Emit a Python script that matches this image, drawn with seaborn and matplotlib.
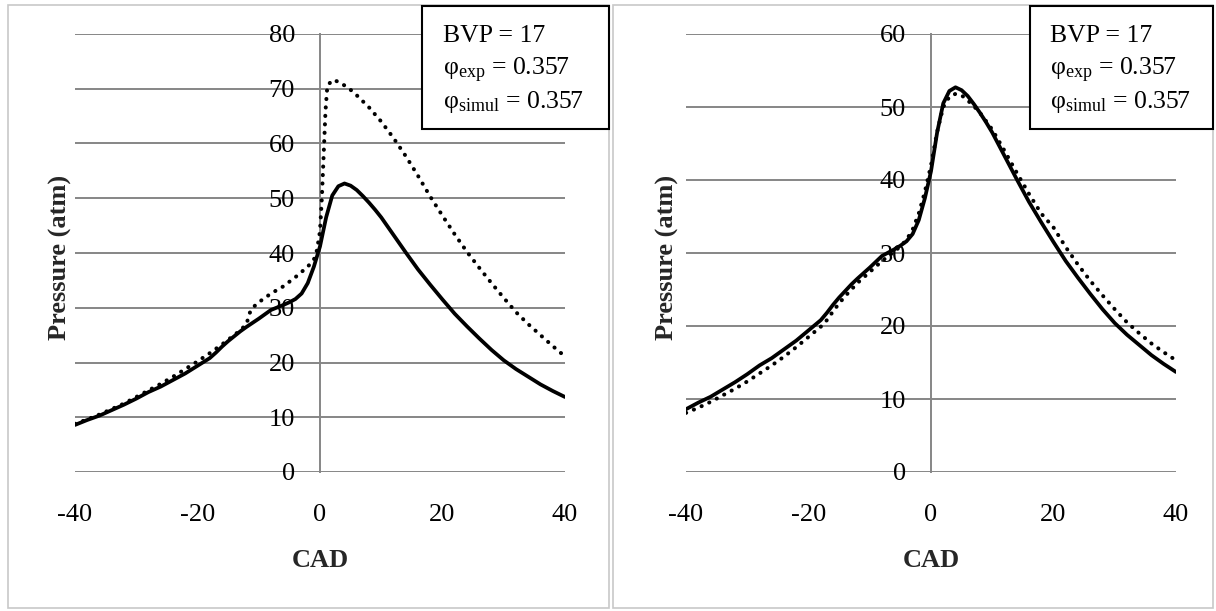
import matplotlib
matplotlib.use("Agg")
import matplotlib.pyplot as plt
from matplotlib.patches import Rectangle
import seaborn as sns
import pandas as pd

# ---------------- data ----------------
cad_exp = [-40, -38, -36, -34, -32, -30, -28, -26, -24, -22, -20, -18, -17, -16, -15, -14, -13, -12,
           -10, -8, -6, -5, -4, -3, -2, -1, 0, 1, 2, 3, 4, 5, 6, 7, 8, 9, 10, 12, 14, 16, 18, 20,
           22, 24, 26, 28, 30, 32, 34, 36, 38, 40]
p_exp = [8.6, 9.5, 10.3, 11.3, 12.3, 13.4, 14.6, 15.6, 16.8, 18.0, 19.4, 20.8, 21.8, 22.9, 23.9, 24.8, 25.7, 26.5,
         28.0, 29.6, 30.5, 31.0, 31.6, 32.6, 34.5, 37.5, 41.2, 46.5, 50.5, 52.2, 52.7, 52.3, 51.5, 50.4, 49.2, 47.9, 46.5,
         43.3, 40.1, 37.0, 34.2, 31.5, 28.9, 26.6, 24.4, 22.3, 20.4, 18.8, 17.4, 16.0, 14.8, 13.7]

cad_sim_left = [-40, -38, -36, -34, -32, -30, -28, -26, -24, -22, -20, -18, -16, -14, -13, -12, -11.5, -11,
                -10, -8, -6, -4, -2, -1, -0.5, 0, 0.3, 0.6, 0.9, 1.2, 2, 3, 4, 5, 6, 8, 10, 12, 14, 16,
                18, 20, 22, 24, 26, 28, 30, 32, 34, 36, 38, 40]
p_sim_left = [8.8, 9.6, 10.5, 11.5, 12.5, 13.7, 14.9, 16.1, 17.4, 18.8, 20.2, 21.7, 23.3, 25.0, 25.9, 27.0, 29.0, 30.0,
              31.0, 32.6, 33.9, 35.6, 37.5, 38.8, 40.5, 44.0, 50.0, 58.0, 66.0, 70.5, 71.6, 71.3, 70.6, 69.8, 68.8, 66.6,
              64.0, 61.0, 57.7, 54.1, 50.3, 46.8, 43.4, 40.2, 37.3, 34.5, 31.8, 29.2, 27.0, 25.0, 23.0, 21.1]

cad_sim_right = [-40, -38, -36, -34, -32, -30, -28, -26, -24, -22, -20, -18, -17, -16, -15, -14, -12, -10,
                 -8, -6, -5, -4, -3, -2, -1, 0, 1, 2, 3, 4, 5, 6, 7, 8, 10, 12, 14, 16, 18, 20,
                 22, 24, 26, 28, 30, 32, 34, 36, 38, 40]
p_sim_right = [8.1, 8.8, 9.6, 10.5, 11.4, 12.4, 13.5, 14.6, 15.8, 17.1, 18.5, 19.9, 20.8, 22.0, 23.1, 24.1, 25.9, 27.4,
               28.9, 30.2, 30.9, 31.8, 33.2, 35.4, 38.4, 42.0, 46.6, 50.0, 51.4, 51.8, 51.6, 50.9, 50.1, 49.2, 46.9,
               44.0, 41.0, 38.1, 35.4, 33.5, 30.8, 28.4, 26.2, 24.2, 22.3, 20.5, 19.0, 17.6, 16.4, 15.3]

x_ticks = [-40, -20, 0, 20, 40]
y_ticks_left = [0, 10, 20, 30, 40, 50, 60, 70, 80]
y_ticks_right = [0, 10, 20, 30, 40, 50, 60]
box_lines = ["BVP = 17", "φ$_{\\mathrm{exp}}$ = 0.357", "φ$_{\\mathrm{simul}}$ = 0.357"]

# ---------------- style ----------------
sns.set_style("white")
plt.rcParams["font.family"] = ["Liberation Serif", "DejaVu Serif"]
plt.rcParams["mathtext.fontset"] = "custom"
plt.rcParams["mathtext.rm"] = "Liberation Serif"
plt.rcParams["mathtext.it"] = "Liberation Serif:italic"
plt.rcParams["mathtext.bf"] = "Liberation Serif:bold"

W, H = 1216, 611
fig = plt.figure(figsize=(W / 100, H / 100), dpi=100)
fig.patch.set_facecolor("white")

GRID = "#868686"


def px_rect(x0, y0, x1, y1):
    """pixel box (top-left origin) -> figure fraction rect"""
    return [x0 / W, (H - y1) / H, (x1 - x0) / W, (y1 - y0) / H]


def setup_panel(ax, yticks, ylabel_x):
    ax.set_xlim(-40, 40)
    ax.set_ylim(yticks[0], yticks[-1])
    ax.set_xticks(x_ticks)
    ax.set_yticks(yticks)
    ax.set_xticklabels([str(t) for t in x_ticks])
    ax.set_yticklabels([str(t) for t in yticks])
    ax.set_facecolor("none")
    for s in ["top", "right", "bottom"]:
        ax.spines[s].set_visible(False)
    ax.spines["left"].set_position(("data", 0))
    ax.spines["left"].set_color(GRID)
    ax.spines["left"].set_linewidth(1.4)
    ax.spines["left"].set_zorder(0.5)
    ax.yaxis.grid(True, color=GRID, linewidth=1.4, zorder=0)
    ax.xaxis.grid(False)
    ax.set_axisbelow(True)
    ax.tick_params(axis="y", length=0, pad=18, labelsize=19, labelcolor="black")
    ax.tick_params(axis="x", length=0, pad=23, labelsize=19, labelcolor="black")
    ax.set_xlabel("CAD", fontsize=19, fontweight="bold", va="center")
    ax.xaxis.set_label_coords(0.5, -0.203)
    ax.set_ylabel("Pressure (atm)", fontsize=19, fontweight="bold", va="center")
    ax.yaxis.set_label_coords(ylabel_x, 0.49)


def draw(ax, cad_sim, p_sim):
    df_e = pd.DataFrame({"CAD": cad_exp, "P": p_exp})
    df_s = pd.DataFrame({"CAD": cad_sim, "P": p_sim})
    sns.lineplot(data=df_e, x="CAD", y="P", ax=ax, color="black", linewidth=2.7,
                 estimator=None, sort=False, solid_capstyle="round",
                 solid_joinstyle="round", zorder=3)
    sns.lineplot(data=df_s, x="CAD", y="P", ax=ax, color="black", linewidth=2.9,
                 estimator=None, sort=False, linestyle=(0, (0.05, 2.05)),
                 dash_capstyle="round", zorder=3)


ax1 = fig.add_axes(px_rect(75, 34, 565, 472))
draw(ax1, cad_sim_left, p_sim_left)
setup_panel(ax1, y_ticks_left, -0.029)

ax2 = fig.add_axes(px_rect(686, 34, 1176, 472))
draw(ax2, cad_sim_right, p_sim_right)
setup_panel(ax2, y_ticks_right, -0.037)

# panel borders
for (x0, x1) in [(8, 609), (613, 1213)]:
    r = px_rect(x0, 5, x1, 608)
    fig.add_artist(Rectangle((r[0], r[1]), r[2], r[3], transform=fig.transFigure,
                             fill=False, edgecolor="#c8c8c8", linewidth=1.2, zorder=0.2))

# annotation boxes
for (x0, x1, tx) in [(422, 609, 443), (1030, 1213, 1050)]:
    r = px_rect(x0, 6, x1, 129)
    fig.add_artist(Rectangle((r[0], r[1]), r[2], r[3], transform=fig.transFigure,
                             facecolor="white", edgecolor="black", linewidth=1.5, zorder=5))
    for i, line in enumerate(box_lines):
        yb = 42 + i * 33
        fig.text(tx / W, (H - yb) / H, line, fontsize=18.5, ha="left", va="baseline",
                 color="black", zorder=6)

fig.savefig("out.png", dpi=100, facecolor="white")
